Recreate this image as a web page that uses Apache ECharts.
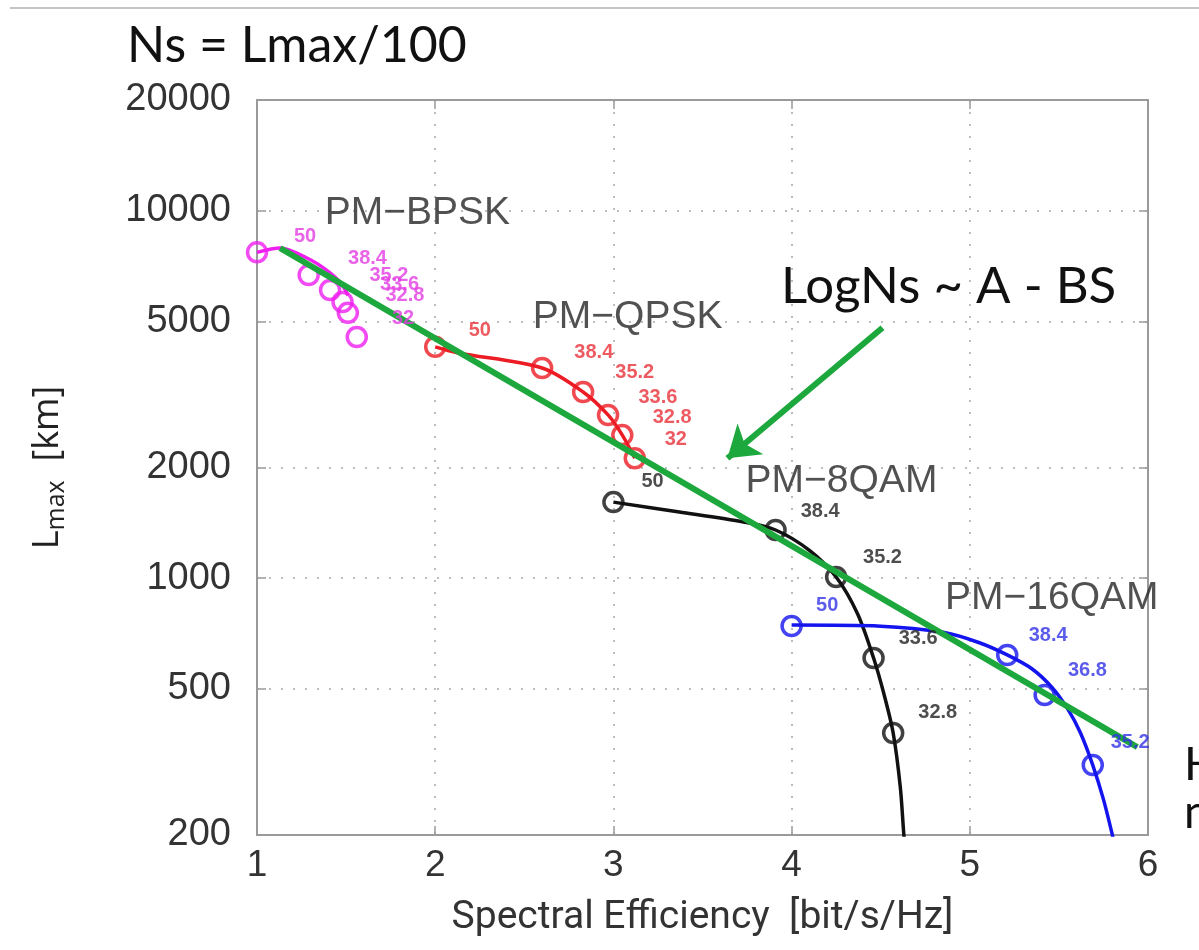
<!DOCTYPE html>
<html>
<head>
<meta charset="utf-8">
<script src="https://cdn.jsdelivr.net/npm/echarts@6.0.0/dist/echarts.min.js"></script>
<style>
  html, body { margin: 0; padding: 0; background: #fff; }
  #main { width: 1199px; height: 950px; }
</style>
</head>
<body>
<div id="main"></div>
<script>
// axis ticks
const xTicks = [1, 2, 3, 4, 5, 6];
const yTicks = [200, 500, 1000, 2000, 5000, 10000, 20000];

// measured points (spectral efficiency, Lmax km)
const bpskPts = [[1.0, 7700], [1.29, 6680], [1.41, 6080], [1.48, 5640], [1.51, 5270], [1.56, 4530]];
const qpskPts = [[2.0, 4260], [2.6, 3730], [2.83, 3210], [2.97, 2780], [3.05, 2450], [3.12, 2120]];
const qam8Pts = [[3.0, 1610], [3.91, 1352], [4.25, 1007], [4.46, 606], [4.57, 379]];
const qam16Pts = [[4.0, 741], [5.21, 618], [5.42, 481], [5.69, 310]];

// fitted curves
const bpskCurve = [[1.0, 7700], [1.13, 7910], [1.28, 7430], [1.39, 6890], [1.47, 6360], [1.51, 5890]];
const qpskCurve = [[2.0, 4260], [2.13, 4100], [2.6, 3730], [2.83, 3210], [2.97, 2780], [3.05, 2450], [3.12, 2120]];
const qam8Curve = [[3.0, 1610], [3.37, 1514], [3.73, 1422], [3.91, 1352], [4.1, 1190], [4.25, 1007], [4.37, 800], [4.46, 606], [4.52, 480], [4.57, 379], [4.61, 270], [4.63, 200], [4.64, 180]];
const qam16Curve = [[4.0, 745], [4.5, 740], [4.85, 712], [5.05, 668], [5.21, 618], [5.35, 566], [5.46, 505], [5.55, 440], [5.62, 380], [5.69, 310], [5.75, 250], [5.8, 200], [5.82, 180]];

// OSNR labels [x, y, text]
const bpskLabels = [[1.27, 8530, '50'], [1.62, 7430, '38.4'], [1.74, 6680, '35.2'], [1.8, 6280, '33.6'], [1.83, 5890, '32.8'], [1.82, 5100, '32']];
const qpskLabels = [[2.25, 4730, '50'], [2.89, 4100, '38.4'], [3.12, 3620, '35.2'], [3.25, 3110, '33.6'], [3.33, 2740, '32.8'], [3.35, 2380, '32']];
const qam8Labels = [[3.22, 1830, '50'], [4.16, 1514, '38.4'], [4.51, 1141, '35.2'], [4.71, 687, '33.6'], [4.82, 432, '32.8']];
const qam16Labels = [[4.2, 845, '50'], [5.44, 700, '38.4'], [5.66, 562, '36.8'], [5.9, 356, '35.2']];

// format names
const groupNames = [[1.9, 9860, 'PM\u2212BPSK'], [3.08, 5140, 'PM\u2212QPSK'], [4.28, 1830, 'PM\u22128QAM'], [5.46, 883, 'PM\u221216QAM']];

// log fit and arrow
const fitLine = [[1.13, 7910], [5.94, 347]];
const arrowFrom = [4.51, 4800];
const arrowTo = [3.64, 2120];

const FONT = 'Liberation Sans';
const frameColor = '#9a9a9a';

function curve(data, color) {
  return {
    type: 'line', data: data, smooth: 0.3, showSymbol: false,
    lineStyle: { color: color, width: 3.5 }, z: 3, silent: true
  };
}
function markers(data, color) {
  return {
    type: 'scatter', data: data, symbol: 'circle', symbolSize: 19,
    itemStyle: { color: 'rgba(0,0,0,0)', borderColor: color, borderWidth: 3.5 }, z: 4, silent: true
  };
}
function texts(data, color, size, weight, family) {
  return {
    type: 'scatter', data: data, symbolSize: 0, z: 6, silent: true,
    label: {
      show: true, position: 'inside', formatter: p => p.data[2],
      color: color, fontSize: size, fontWeight: weight, fontFamily: family
    }
  };
}

const chart = echarts.init(document.getElementById('main'));
chart.setOption({
  backgroundColor: '#fff',
  animation: false,
  grid: { left: 257, right: 51, top: 100, bottom: 115, show: false },
  title: {
    text: 'Ns = Lmax/100', left: 122, top: 16,
    textStyle: { fontFamily: 'Lato', fontWeight: 'normal', fontSize: 50, color: '#111' }
  },
  graphic: [
    { type: 'line', shape: { x1: 10, y1: 8, x2: 1199, y2: 8 }, style: { stroke: '#c4c4c4', lineWidth: 2 } },
    { type: 'text', left: 781, top: 261, style: { text: 'LogNs ~ A - BS', fontFamily: 'Lato', fontSize: 51, fill: '#111' } },
    { type: 'text', left: 1184, top: 742, style: { text: 'H', fontFamily: 'Lato', fontSize: 46, fill: '#111' } },
    { type: 'text', left: 1184, top: 790, style: { text: 'n', fontFamily: 'Lato', fontSize: 46, fill: '#111' } }
  ],
  xAxis: [{
    type: 'value', min: 1, max: 6, interval: 1, position: 'bottom',
    name: 'Spectral Efficiency  [bit/s/Hz]', nameLocation: 'middle', nameGap: 64,
    nameTextStyle: { fontFamily: "'Liberation Sans Narrow', Roboto, sans-serif", fontSize: 39, color: '#333' },
    axisLine: { show: true, lineStyle: { color: frameColor, width: 2 } },
    axisTick: { show: true, inside: true, length: 9, lineStyle: { color: frameColor, width: 1.5 } },
    axisLabel: { fontFamily: FONT, fontSize: 37, color: '#333', margin: 12 },
    splitLine: { show: true, lineStyle: { color: '#bdbdbd', width: 2, type: [2, 10] } }
  }, {
    type: 'value', min: 1, max: 6, interval: 1, position: 'top',
    axisLine: { show: true, lineStyle: { color: frameColor, width: 2 } },
    axisTick: { show: true, inside: true, length: 9, lineStyle: { color: frameColor, width: 1.5 } },
    axisLabel: { show: false }, splitLine: { show: false }
  }],
  yAxis: [{
    type: 'log', logBase: 10, min: 200, max: 20000, position: 'left',
    name: '{a|L}{s|max}{a|  [km]}', nameLocation: 'middle', nameGap: 186, nameRotate: 90,
    nameTextStyle: {
      rich: {
        a: { fontFamily: 'Open Sans', fontSize: 36, color: '#222', lineHeight: 46 },
        s: { fontFamily: 'Open Sans', fontSize: 25, color: '#222', padding: [18, 0, 0, 0], lineHeight: 46 }
      }
    },
    axisLine: { show: true, lineStyle: { color: frameColor, width: 2 } },
    axisTick: { show: true, inside: true, length: 9, customValues: yTicks, lineStyle: { color: frameColor, width: 1.5 } },
    axisLabel: { customValues: yTicks, formatter: v => String(Math.round(v)), fontFamily: FONT, fontSize: 38, color: '#333', margin: 26 },
    splitLine: { show: true, lineStyle: { color: '#bdbdbd', width: 2, type: [2, 10] } }
  }, {
    type: 'log', logBase: 10, min: 200, max: 20000, position: 'right',
    axisLine: { show: true, lineStyle: { color: frameColor, width: 2 } },
    axisTick: { show: true, inside: true, length: 9, customValues: yTicks, lineStyle: { color: frameColor, width: 1.5 } },
    axisLabel: { show: false }, splitLine: { show: false }
  }],
  series: [
    curve(bpskCurve, '#f01ef0'),
    curve(qpskCurve, '#ec1c24'),
    curve(qam8Curve, '#111111'),
    curve(qam16Curve, '#1414ee'),
    markers(bpskPts, '#f01ef0'),
    markers(qpskPts, '#ec1c24'),
    markers(qam8Pts, '#111111'),
    markers(qam16Pts, '#1414ee'),
    {
      type: 'line', data: fitLine, showSymbol: false, z: 5, silent: true,
      lineStyle: { color: '#1ca83c', width: 6 },
      markLine: {
        silent: true, symbol: ['none', 'arrow'], symbolSize: 30,
        lineStyle: { color: '#1ca83c', width: 6, type: 'solid' },
        label: { show: false },
        data: [[{ coord: arrowFrom }, { coord: arrowTo }]]
      }
    },
    texts(bpskLabels, '#e23ce2', 20, 'bold', FONT),
    texts(qpskLabels, '#e8323a', 20, 'bold', FONT),
    texts(qam8Labels, '#222', 20, 'bold', FONT),
    texts(qam16Labels, '#3333e6', 20, 'bold', FONT),
    texts(groupNames, '#262626', 39, 'normal', FONT)
  ]
});
</script>
</body>
</html>
